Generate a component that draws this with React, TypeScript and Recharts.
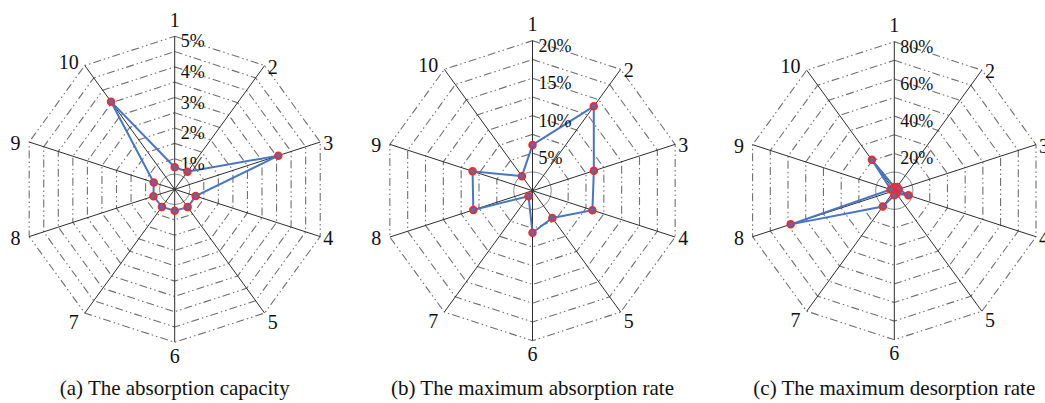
import React from 'react';
import { RadarChart, Radar, PolarGrid, PolarAngleAxis, PolarRadiusAxis } from 'recharts';

// ---- data ----
const categories = ['1', '2', '3', '4', '5', '6', '7', '8', '9', '10'];

const absorptionCapacity = [0.72, 0.71, 3.56, 0.72, 0.72, 0.7, 0.71, 0.73, 0.72, 3.54];
const maxAbsorptionRate = [6.1, 13.9, 8.6, 8.4, 4.5, 5.6, 0.9, 8.3, 8.4, 2.4];
const maxDesorptionRate = [2, 2.5, 2.5, 8, 2, 2.5, 10.5, 58.5, 2, 20.5];

const capacityRings = [1, 1.5, 2, 2.5, 3, 3.5, 4, 4.5, 5];
const capacityLabels = [1, 2, 3, 4, 5];
const absorptionRateRings = [5, 7.5, 10, 12.5, 15, 17.5, 20];
const absorptionRateLabels = [5, 10, 15, 20];
const desorptionRateRings = [20, 30, 40, 50, 60, 70, 80];
const desorptionRateLabels = [20, 40, 60, 80];

const titles = [
  '(a) The absorption capacity',
  '(b) The maximum absorption rate',
  '(c) The maximum desorption rate',
];

const FONT = '"Liberation Serif", "Times New Roman", serif';
const LINE = '#4a76bf';
const DOT_RED = '#ee2b2f';
const GRID = '#707070';
const SPOKE = '#2e2e2e';

type PanelProps = {
  left: number;
  cx: number;
  cy: number;
  R: number;
  values: number[];
  max: number;
  rings: number[];
  labels: number[];
  innerRing: number;
};

function Panel({ left, cx, cy, R, values, max, rings, labels, innerRing }: PanelProps) {
  const data = categories.map((c, i) => ({ axis: c, value: values[i] }));

  const angleTick = (p: any) => {
    const dx = p.x - cx;
    const dy = p.y - cy;
    const n = Math.hypot(dx, dy) || 1;
    const ux = dx / n;
    const uy = dy / n;
    const ex = cx + ux * R;
    const ey = cy + uy * R;
    let anchor = 'middle';
    let x = ex;
    let y = ey;
    if (uy < -0.99) {
      y = ey - 16.5;
    } else if (uy > 0.99) {
      y = ey + 13.5;
    } else {
      anchor = ux > 0 ? 'start' : 'end';
      x = ux > 0 ? ex + 3 : ex - (2 + 7 * Math.abs(ux));
      y = ey + (uy > 0.5 ? 9 : uy < -0.5 && ux < 0 ? -4 : 1);
    }
    return (
      <text
        x={x}
        y={y}
        textAnchor={anchor as any}
        dominantBaseline="central"
        fontFamily={FONT}
        fontSize={20}
        fill="#111"
      >
        {p.payload.value}
      </text>
    );
  };

  const radiusTick = (p: any) => {
    const v = p.payload.value;
    if (!labels.includes(v)) return <g />;
    return (
      <text
        x={p.x + 6}
        y={p.y + 5}
        textAnchor="start"
        dominantBaseline="central"
        fontFamily={FONT}
        fontSize={18}
        fill="#111"
      >
        {`${v}%`}
      </text>
    );
  };

  return (
    <div style={{ position: 'absolute', left, top: 0 }}>
      <RadarChart
        width={350}
        height={403}
        data={data}
        cx={cx}
        cy={cy}
        outerRadius={R}
        margin={{ top: 0, right: 0, bottom: 0, left: 0 }}
      >
        <PolarGrid
          gridType="polygon"
          radialLines={false}
          stroke={GRID}
          strokeWidth={1.1}
          strokeDasharray="8 3 1.5 3 1.5 3"
        />
        <PolarGrid
          gridType="circle"
          radialLines={false}
          polarRadius={[(R * innerRing) / max]}
          stroke="#8a8a8a"
          strokeWidth={1}
        />
        <PolarGrid gridType="polygon" radialLines polarRadius={[]} stroke={SPOKE} strokeWidth={1} />
        <PolarAngleAxis dataKey="axis" tick={angleTick} tickLine={false} axisLine={false} />
        <PolarRadiusAxis
          angle={90}
          type="number"
          domain={[0, max]}
          ticks={rings}
          tick={radiusTick}
          tickLine={false}
          axisLine={false}
        />
        <Radar
          dataKey="value"
          stroke={LINE}
          strokeWidth={2}
          fill="none"
          fillOpacity={0}
          dot={{ r: 3.3, stroke: DOT_RED, strokeWidth: 1.9, fill: '#4f6fb0', fillOpacity: 1 }}
          isAnimationActive={false}
        />
      </RadarChart>
    </div>
  );
}

const panels = [
  { left: 0, cx: 174.7, cy: 189.3, R: 153, values: absorptionCapacity, max: 5, rings: capacityRings, labels: capacityLabels, innerRing: 0.5 },
  { left: 350, cx: 182.5, cy: 190.7, R: 150, values: maxAbsorptionRate, max: 20, rings: absorptionRateRings, labels: absorptionRateLabels, innerRing: 2.5 },
  { left: 695, cx: 199.3, cy: 190.7, R: 149, values: maxDesorptionRate, max: 80, rings: desorptionRateRings, labels: desorptionRateLabels, innerRing: 10 },
];

export default function App() {
  return (
    <div
      style={{
        position: 'absolute',
        left: 0,
        top: 0,
        width: 1045,
        height: 403,
        overflow: 'hidden',
        background: '#fff',
      }}
    >
      {panels.map((p, i) => (
        <Panel key={i} {...p} />
      ))}
      <svg width={1045} height={403} style={{ position: 'absolute', left: 0, top: 0, pointerEvents: 'none' }}>
        {panels.map((p, i) => (
          <text
            key={i}
            x={p.left + p.cx}
            y={395}
            textAnchor="middle"
            fontFamily={FONT}
            fontSize={21}
            fill="#111"
          >
            {titles[i]}
          </text>
        ))}
      </svg>
    </div>
  );
}
